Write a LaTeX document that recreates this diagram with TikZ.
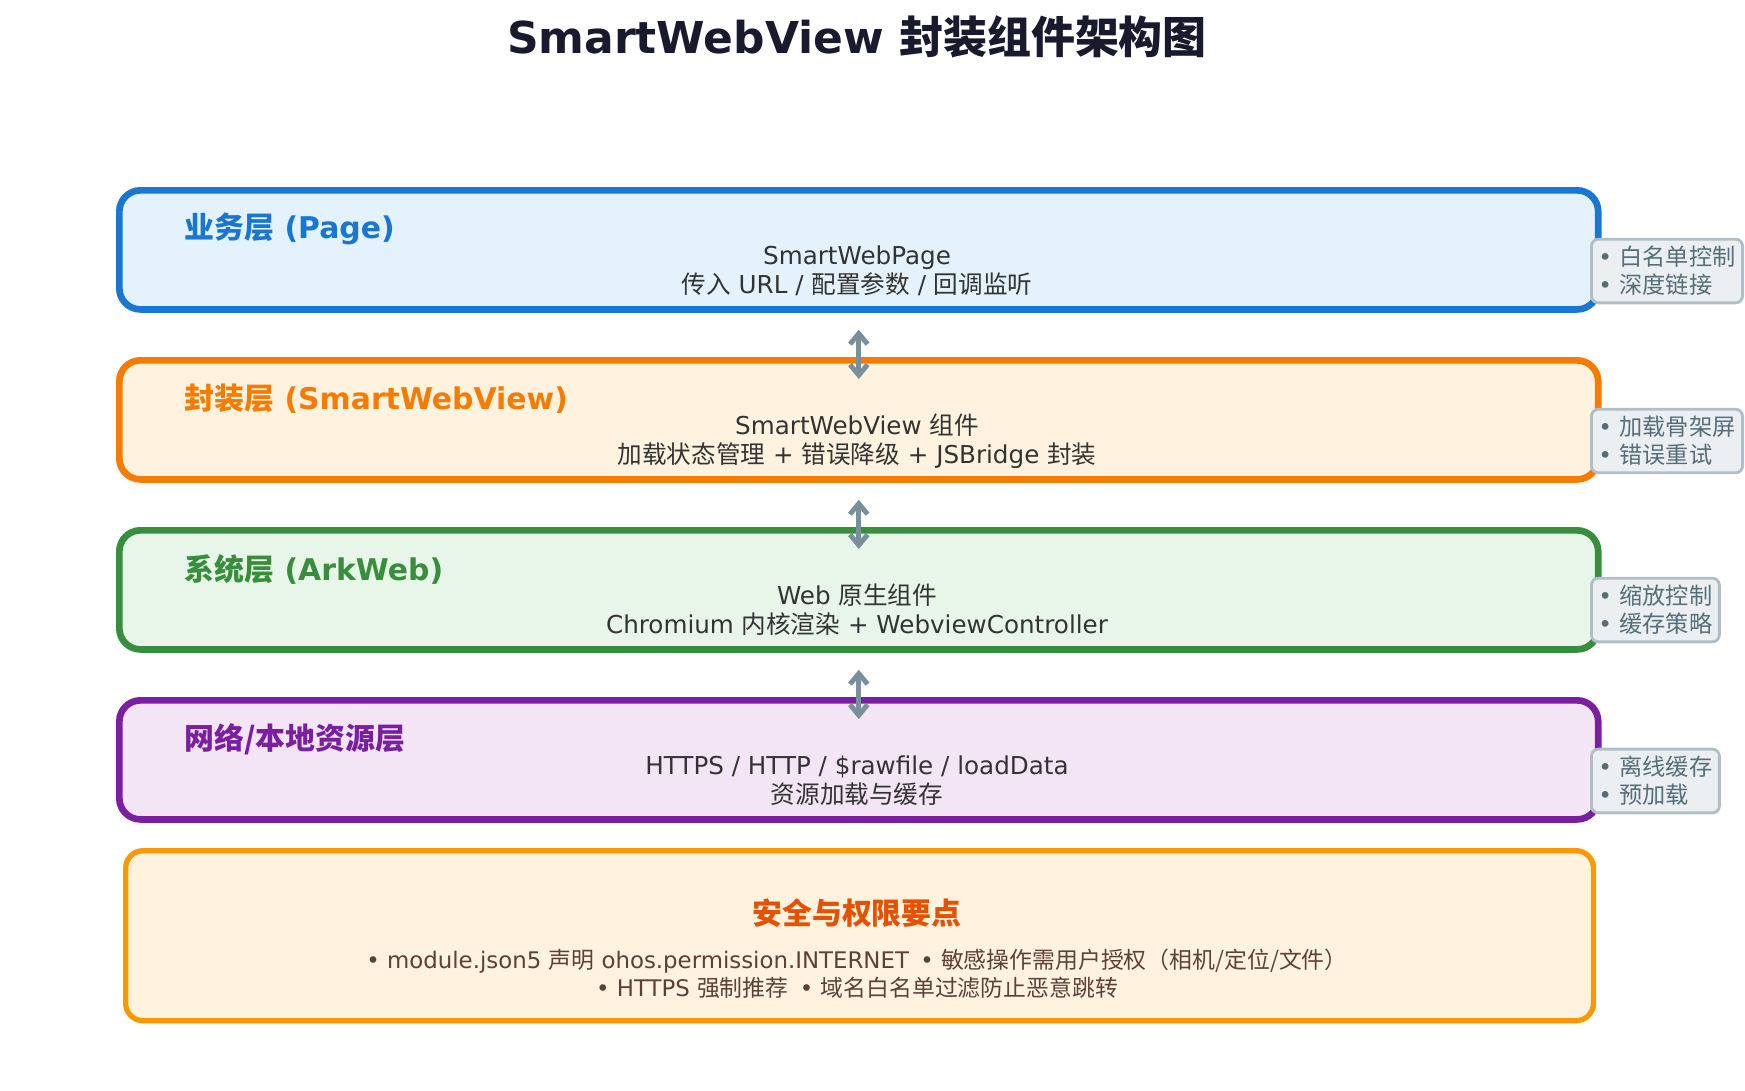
\documentclass[tikz,border=0pt]{standalone}
\usepackage{fontspec}
\setmainfont{DejaVu Sans}
\newfontfamily\cjk{Noto Sans CJK SC}
\newcommand{\zh}[1]{{\cjk #1}}
\usetikzlibrary{positioning,arrows.meta}
\definecolor{blueD}{HTML}{1976D2}\definecolor{blueL}{HTML}{E3F2FD}
\definecolor{orgD}{HTML}{F57C00}\definecolor{orgL}{HTML}{FFF3E0}
\definecolor{grnD}{HTML}{388E3C}\definecolor{grnL}{HTML}{E8F5E9}
\definecolor{purD}{HTML}{7B1FA2}\definecolor{purL}{HTML}{F3E5F5}
\definecolor{arrowC}{HTML}{78909C}
\definecolor{noteL}{HTML}{ECEFF1}\definecolor{noteD}{HTML}{B0BEC5}\definecolor{noteT}{HTML}{546E7A}
\definecolor{secD}{HTML}{FF9800}\definecolor{secT}{HTML}{E65100}\definecolor{secB}{HTML}{5D4037}
\definecolor{txt}{HTML}{333333}\definecolor{ttl}{HTML}{1A1A2E}
\tikzset{
  layer/.style={draw=#1, line width=1.9pt, rounded corners=6pt, minimum width=14.78cm, minimum height=1.19cm, anchor=north west},
  ltitle/.style={font=\bfseries\fontsize{8.5}{10}\selectfont, text=#1, anchor=west},
  body/.style={font=\fontsize{7}{8.3}\selectfont, text=txt, align=center},
  note/.style={draw=noteD, fill=noteL, line width=0.8pt, rounded corners=2pt, text=noteT, align=left,
    font=\fontsize{6.6}{8}\selectfont, inner sep=2pt, anchor=west},
  link/.style={{Straight Barb[length=3pt,width=5pt]}-{Straight Barb[length=3pt,width=5pt]}, line width=1.4pt, draw=arrowC, line cap=round}
}
\begin{document}
\begin{tikzpicture}[x=0.01cm,y=-0.01cm]
\useasboundingbox (0,0) rectangle (1745,1090);
\node[font=\bfseries\fontsize{12.5}{14}\selectfont, text=ttl] (title) at (857,37) {SmartWebView \zh{封装组件架构图}};

% layers
\node[layer=blueD, fill=blueL] (page) at (116,187) {};
\node[layer=orgD, fill=orgL] (wrap) at (116,357) {};
\node[layer=grnD, fill=grnL] (sys) at (116,527) {};
\node[layer=purD, fill=purL] (net) at (116,697) {};

\node[ltitle=blueD] (pageT) at (172,229) {\zh{业务层} (Page)};
\node[body] (pageB) at (857,271) {SmartWebPage\\\zh{传入} URL / \zh{配置参数} / \zh{回调监听}};
\node[ltitle=orgD] (wrapT) at (172,399) {\zh{封装层} (SmartWebView)};
\node[body] (wrapB) at (857,441) {SmartWebView \zh{组件}\\\zh{加载状态管理} + \zh{错误降级} + JSBridge \zh{封装}};
\node[ltitle=grnD] (sysT) at (172,569) {\zh{系统层} (ArkWeb)};
\node[body] (sysB) at (857,610) {Web \zh{原生组件}\\Chromium \zh{内核渲染} + WebviewController};
\node[ltitle=purD] (netT) at (172,739) {\zh{网络/本地资源层}};
\node[body] (netB) at (857,781) {HTTPS / HTTP / \$rawfile / loadData\\\zh{资源加载与缓存}};

% side notes
\node[note] (n1) at (1590,271) {• \zh{白名单控制}\\• \zh{深度链接}};
\node[note] (n2) at (1590,441) {• \zh{加载骨架屏}\\• \zh{错误重试}};
\node[note] (n3) at (1590,610) {• \zh{缩放控制}\\• \zh{缓存策略}};
\node[note] (n4) at (1590,781) {• \zh{离线缓存}\\• \zh{预加载}};

% links
\draw[link] ([yshift=-0.17cm]page.south) -- ([yshift=-0.22cm]wrap.north);
\draw[link] ([yshift=-0.17cm]wrap.south) -- ([yshift=-0.22cm]sys.north);
\draw[link] ([yshift=-0.17cm]sys.south) -- ([yshift=-0.22cm]net.north);

% security
\node[draw=secD, fill=orgL, line width=1.5pt, rounded corners=5pt, minimum width=14.67cm, minimum height=1.70cm, anchor=north west] (sec) at (123,848) {};
\node[font=\bfseries\fontsize{8.5}{10}\selectfont, text=secT] (secT) at (857,913) {\zh{安全与权限要点}};
\node[font=\fontsize{6.5}{8}\selectfont, text=secB, align=center] (secB) at (857,974)
  {• module.json5 \zh{声明} ohos.permission.INTERNET\enspace • \zh{敏感操作需用户授权（相机/定位/文件）}\\• HTTPS \zh{强制推荐}\enspace • \zh{域名白名单过滤防止恶意跳转}};
\end{tikzpicture}
\end{document}
